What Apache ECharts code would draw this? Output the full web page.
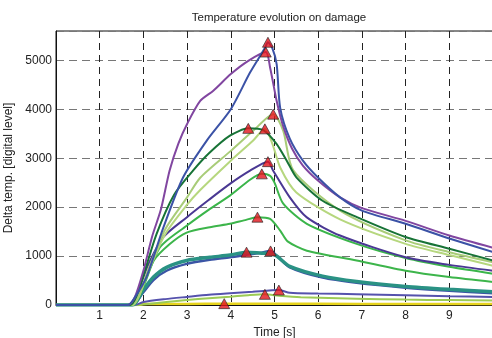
<!DOCTYPE html>
<html>
<head>
<meta charset="utf-8">
<script src="https://cdn.jsdelivr.net/npm/echarts@6/dist/echarts.min.js"></script>
<style>
  html, body { margin: 0; padding: 0; background: #fff; overflow: hidden; }
  #chart { width: 493px; height: 338px; }
</style>
</head>
<body>
<div id="chart"></div>
<script>
// [time s, delta temp] samples
const yellow = [[0,0],[1.9,0],[2.0,18],[3.0,22],[3.85,28],[5,24],[6,24],[8,20],[10,20]];
const lowGreen = [[0,0],[1.85,0],[2.1,20],[2.53,60],[3,100],[3.5,140],[3.98,170],[4.4,200],[4.78,218],[5.1,190],[5.6,160],[6.88,130],[8,110],[9,100],[10,90]];
const lowBlue = [[0,0],[1.8,0],[2.0,60],[2.5,120],[2.99,165],[3.5,210],[3.98,240],[4.5,270],[5.1,305],[5.35,250],[6,235],[6.88,222],[8,200],[9,180],[10,165]];
const bandBlue = [[0,0],[1.75,0],[1.99,250],[2.23,510],[2.53,700],[2.99,840],[3.52,925],[3.98,975],[4.36,1025],[4.7,1070],[4.91,1105],[5.05,1010],[5.35,770],[6.1,560],[6.88,455],[8,355],[9,290],[10,240]];
const teal = [[0,0],[1.75,0],[1.99,300],[2.23,570],[2.53,770],[2.99,910],[3.52,975],[3.98,1020],[4.36,1080],[4.7,1060],[4.91,1050],[5.05,1000],[5.35,790],[6.1,590],[6.88,480],[8,380],[9,320],[10,270]];
const green1800 = [[0,0],[1.75,0],[1.92,230],[2.23,900],[2.61,1250],[2.99,1480],[3.52,1590],[3.98,1660],[4.3,1730],[4.61,1795],[4.9,1760],[5.13,1520],[5.3,1300],[5.74,1110],[6.88,910],[8,700],[9,570],[10,470]];
const green2650 = [[0,0],[1.75,0],[1.99,360],[2.38,1180],[2.99,1620],[3.5,1950],[3.98,2235],[4.44,2560],[4.71,2680],[4.9,2640],[5.0,2500],[5.2,2070],[5.74,1660],[6.88,1250],[8,960],[9,780],[10,640]];
const darkPurple = [[0,0],[1.7,0],[1.85,200],[2.1,800],[2.46,1390],[2.99,1790],[3.5,2150],[3.98,2475],[4.44,2745],[4.85,2930],[4.97,2745],[5.35,2200],[5.74,1790],[6.5,1420],[8,975],[9,820],[10,700]];
const lightGreen2 = [[0,0],[1.75,0],[1.9,180],[2.1,650],[2.5,1450],[3.0,2050],[3.3,2350],[4.0,2950],[4.5,3350],[4.78,3600],[4.95,3300],[5.13,2810],[5.5,2300],[6.5,1750],[8,1250],[9,1020],[10,800]];
const lightGreen1 = [[0,0],[1.75,0],[1.9,200],[2.1,700],[2.5,1550],[3.0,2200],[3.3,2600],[4.0,3150],[4.5,3550],[4.97,3900],[5.2,3560],[5.43,2750],[6.5,1930],[8,1320],[9,1080],[10,875]];
const darkGreen = [[0,0],[1.7,0],[1.85,200],[2.0,600],[2.3,1450],[2.7,2250],[3.14,2750],[3.5,3100],[3.98,3460],[4.4,3610],[4.75,3570],[5.05,3290],[5.28,2950],[5.5,2610],[6.1,2130],[6.9,1790],[8,1390],[9,1150],[10,910]];
const purple = [[0,0],[1.65,0],[1.8,150],[2.0,700],[2.2,1400],[2.4,1950],[2.6,2750],[2.8,3300],[3.0,3700],[3.3,4170],[3.6,4380],[4.0,4720],[4.4,4990],[4.8,5170],[4.9,4850],[5.05,4170],[5.2,3650],[5.4,3200],[5.65,2850],[6.0,2540],[6.5,2200],[7.0,1980],[8,1720],[9,1420],[10,1170]];
const blue = [[0,0],[1.65,0],[1.8,150],[2.07,570],[2.46,1590],[2.91,2610],[3.45,3360],[4.0,4000],[4.44,4750],[4.78,5250],[4.85,5370],[4.95,5250],[5.05,4920],[5.13,4030],[5.35,3400],[5.65,2950],[6.0,2600],[6.5,2200],[7.0,1930],[8,1660],[9,1360],[10,1080]];

const xTicks = [1, 2, 3, 4, 5, 6, 7, 8, 9];
const yTicks = [0, 1000, 2000, 3000, 4000, 5000];

const curves = [
  { data: yellow, color: '#e6d31c', width: 2.5 },
  { data: lowGreen, color: '#9ccb55', width: 2 },
  { data: lowBlue, color: '#5552ad', width: 2 },
  { data: bandBlue, color: '#3b55a5', width: 2.5 },
  { data: teal, color: '#2a9284', width: 3.5 },
  { data: green1800, color: '#3db54b', width: 2 },
  { data: green2650, color: '#3ab54a', width: 2 },
  { data: darkPurple, color: '#4a3893', width: 2 },
  { data: lightGreen2, color: '#b6d77e', width: 2 },
  { data: lightGreen1, color: '#a8cc78', width: 2 },
  { data: darkGreen, color: '#177336', width: 2 },
  { data: purple, color: '#8146a0', width: 2 },
  { data: blue, color: '#3b52a6', width: 2 }
];

// peak of every curve, marked with a triangle
const peaks = curves.map(c => c.data.reduce((m, p) => (p[1] > m[1] ? p : m)));

const font = 'Liberation Sans, Arial, sans-serif';
const chart = echarts.init(document.getElementById('chart'));

chart.setOption({
  animation: false,
  title: {
    text: 'Temperature evolution on damage',
    left: 274,
    textAlign: 'center',
    top: 7,
    textStyle: { fontFamily: font, fontSize: 11.5, fontWeight: 'normal', color: '#222' }
  },
  grid: {
    left: 56, right: 0, top: 31, bottom: 33,
    containLabel: false, outerBoundsMode: 'none',
    show: true, borderColor: '#111', borderWidth: 1
  },
  xAxis: {
    type: 'value',
    min: 0,
    max: 10,
    interval: 1,
    name: 'Time [s]',
    nameLocation: 'middle',
    nameGap: 22,
    nameTextStyle: { fontFamily: font, fontSize: 12, color: '#222' },
    axisLine: { show: true, lineStyle: { color: '#111' } },
    axisTick: { show: false },
    axisLabel: {
      margin: 5,
      fontFamily: font, fontSize: 12, color: '#222',
      formatter: v => (xTicks.includes(v) ? String(v) : '')
    },
    splitLine: { show: true, lineStyle: { color: '#222', type: [7, 5], width: 1 } }
  },
  yAxis: {
    type: 'value',
    min: 0,
    max: 5600,
    interval: 1000,
    name: 'Delta temp. [digital level]',
    nameLocation: 'middle',
    nameGap: 33,
    nameTextStyle: { fontFamily: font, fontSize: 12, color: '#222' },
    axisLine: { show: true, lineStyle: { color: '#111' } },
    axisTick: { show: false },
    axisLabel: {
      margin: 4,
      fontFamily: font, fontSize: 12, color: '#222',
      formatter: v => (yTicks.includes(v) ? String(v) : '')
    },
    splitLine: { show: true, lineStyle: { color: '#777', type: [8, 5], width: 1 } }
  },
  series: curves.map(c => ({
    type: 'line',
    data: c.data,
    smooth: 0.25,
    symbol: 'none',
    lineStyle: { color: c.color, width: c.width },
    z: 2
  })).concat([{
    type: 'scatter',
    data: peaks,
    symbol: 'triangle',
    symbolSize: [11, 10],
    itemStyle: { color: '#e3141c', borderColor: '#222', borderWidth: 0.8 },
    z: 5
  }])
});
</script>
</body>
</html>
